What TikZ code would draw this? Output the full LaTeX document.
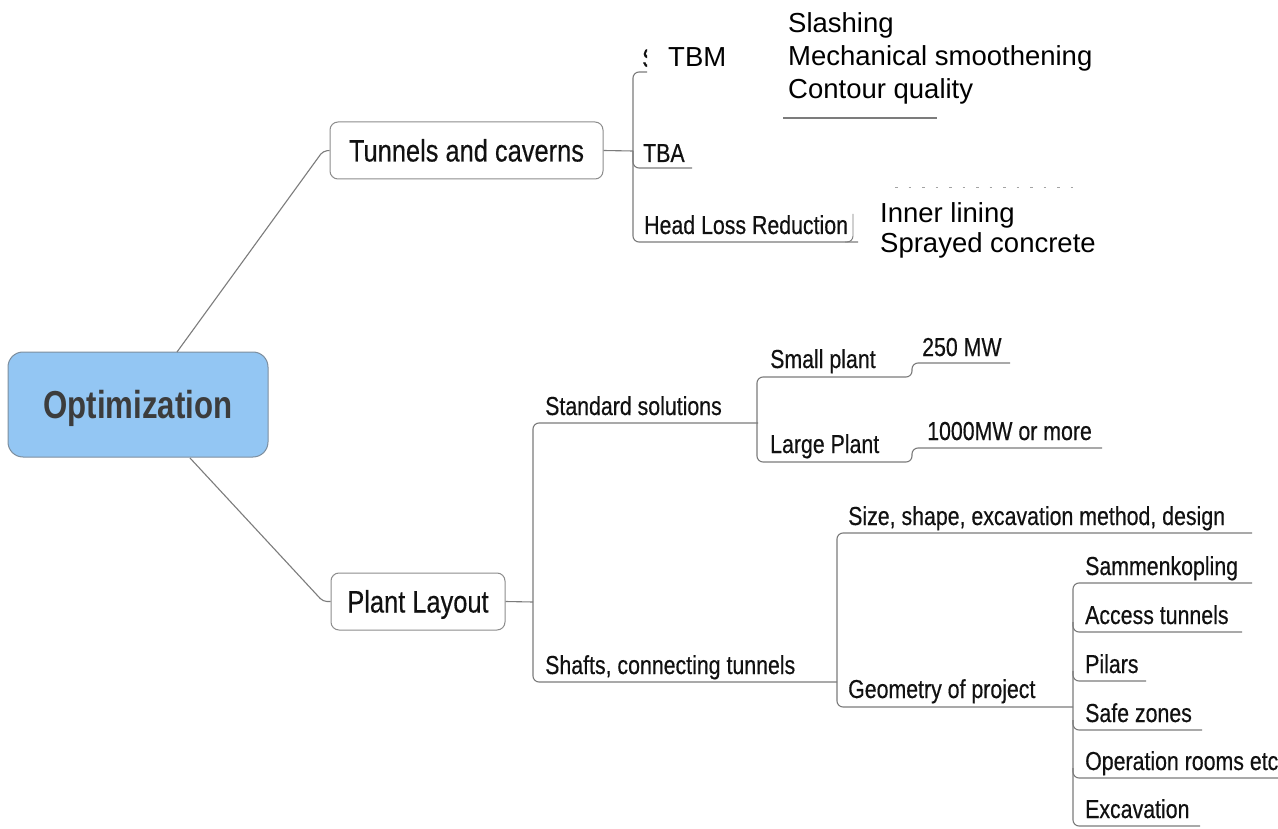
\documentclass[tikz,border=0pt]{standalone}
\usepackage{fontspec}
\setmainfont{Liberation Sans}
\newfontfamily\narrowfont[FakeStretch=0.82,FakeBold=0.4]{Liberation Sans}
\newfontfamily\titlefont[FakeStretch=0.8]{Liberation Sans}

\definecolor{linegray}{HTML}{7C7C7C}
\definecolor{boxgray}{HTML}{8C8C8C}
\definecolor{rootblue}{HTML}{93C6F3}
\definecolor{rootedge}{HTML}{7D8E9E}
\definecolor{inkgray}{HTML}{3C3C3C}
\definecolor{ink}{HTML}{111111}

\tikzset{
  branch/.style={draw=linegray, line width=1.1pt, rounded corners=6pt},
  topic/.style={draw=boxgray, line width=1pt, rounded corners=8pt, fill=white,
    inner sep=0pt, text height=22pt, text depth=0pt, text=ink,
    font=\narrowfont\fontsize{31}{34}\selectfont},
  rootbox/.style={draw=rootedge, line width=1pt, rounded corners=15pt, fill=rootblue,
    inner sep=0pt, minimum width=260pt, minimum height=105pt,
    text height=28pt, text depth=0pt, text=inkgray,
    font=\titlefont\bfseries\fontsize{39}{42}\selectfont},
  lbl/.style={anchor=base west, inner sep=0pt, text=ink,
    font=\narrowfont\fontsize{26}{30}\selectfont},
  note/.style={anchor=base west, inner sep=0pt, text=black,
    font=\fontsize{27.5}{32}\selectfont},
}

\begin{document}
\begin{tikzpicture}[x=1pt, y=-1pt]
\useasboundingbox[fill=white] (0,0) rectangle (1278,829);

% ---------- central topic ----------
\node[rootbox] (root) at (138,404.5) {Optimization};

% ---------- main topics ----------
\node[topic, minimum width=273pt, minimum height=57pt] (tunnels) at (466.5,150.5) {Tunnels and caverns};
\node[topic, minimum width=174pt, minimum height=57pt] (plant) at (418,601.5) {Plant Layout};

\coordinate (root-n) at (177,352);
\coordinate (root-s) at (190,458);
\draw[branch, rounded corners=4pt] (root-n) -- (323,151) -- (tunnels.west);
\draw[branch, rounded corners=4pt] (root-s) -- (323,601.5) -- (plant.west);

% ---------- Tunnels and caverns ----------
\coordinate (tspine) at (633,151);
\coordinate (tbm-e) at (647,72);
\coordinate (tba-e) at (692,168);
\coordinate (hl-e) at (858,242);
\draw[branch] (tunnels.east) -- (tspine);
\draw[branch] (tbm-e) -| (tspine |- hl-e) -- (hl-e);
\draw[branch] (tspine) |- (tba-e);

\begin{scope}
  \clip (600,30) rectangle (647,80);
  \node[lbl] (tbm-old) at (642,67) {S};
\end{scope}
\node[note] (tbm) at (668,67) {TBM};
\node[note] (tbm-a) at (788,33) {Slashing};
\node[note] (tbm-b) at (788,66) {Mechanical smoothening};
\node[note] (tbm-c) at (788,99) {Contour quality};
\coordinate (tbmsub-w) at (783,118);
\coordinate (tbmsub-e) at (937,118);
\draw[branch] (tbmsub-w) -- (tbmsub-e);

\node[lbl] (tba) at (643,162) {TBA};
\node[lbl] (hl) at (644,234) {Head Loss Reduction};

\coordinate (hlsub-s) at (853,214);
\draw[branch, line width=0.9pt] (845,242) -| (hlsub-s);
\draw[linegray!70, line width=1pt, dash pattern=on 2.5pt off 11pt] (895,188) -- (1080,188);
\node[note] (hl-a) at (880,223) {Inner lining};
\node[note] (hl-b) at (880,253) {Sprayed concrete};

% ---------- Plant Layout ----------
\coordinate (pspine) at (533,602);
\coordinate (std-e) at (758,423);
\coordinate (sh-e) at (837,682);
\draw[branch] (plant.east) -- (pspine);
\draw[branch] (std-e) -- (pspine |- std-e) -- (pspine |- sh-e) -- (sh-e);
\node[lbl] (std) at (545,415) {Standard solutions};
\node[lbl] (sh) at (545,674) {Shafts, connecting tunnels};

% standard solutions
\coordinate (mw250-e) at (1010,363);
\coordinate (mw1000-e) at (1102,448);
\draw[branch] (mw250-e) -- (912,363) -- (912,377) -- (757,377) -- (757,462)
  -- (912,462) -- (912,448) -- (mw1000-e);
\node[lbl] (small) at (770,368) {Small plant};
\node[lbl] (large) at (770,453) {Large Plant};
\node[lbl] (mw250) at (922,356) {250 MW};
\node[lbl] (mw1000) at (927,440) {1000MW or more};

% shafts, connecting tunnels
\coordinate (size-e) at (1252,533);
\coordinate (geo-e) at (1073,707);
\draw[branch] (size-e) -- (837,533) -- (837,707) -- (geo-e);
\node[lbl] (size) at (848,525) {Size, shape, excavation method, design};
\node[lbl] (geo) at (848,698) {Geometry of project};

% geometry of project
\coordinate (gspine) at (1073,700);
\coordinate (g1) at (1252,583);
\coordinate (g2) at (1242,632);
\coordinate (g3) at (1146,681);
\coordinate (g4) at (1202,730);
\coordinate (g5) at (1280,778);
\coordinate (g6) at (1200,826);
\draw[branch] (g1) -- (1073,583) -- (1073,826) -- (g6);
\foreach \g in {g2,g3,g4,g5}{
  \draw[branch] (gspine |- \g) ++(0,-10) |- (\g);
}
\node[lbl] (g1t) at (1085,575) {Sammenkopling};
\node[lbl] (g2t) at (1085,624) {Access tunnels};
\node[lbl] (g3t) at (1085,673) {Pilars};
\node[lbl] (g4t) at (1085,722) {Safe zones};
\node[lbl] (g5t) at (1085,770) {Operation rooms etc};
\node[lbl] (g6t) at (1085,818) {Excavation};

\end{tikzpicture}
\end{document}
